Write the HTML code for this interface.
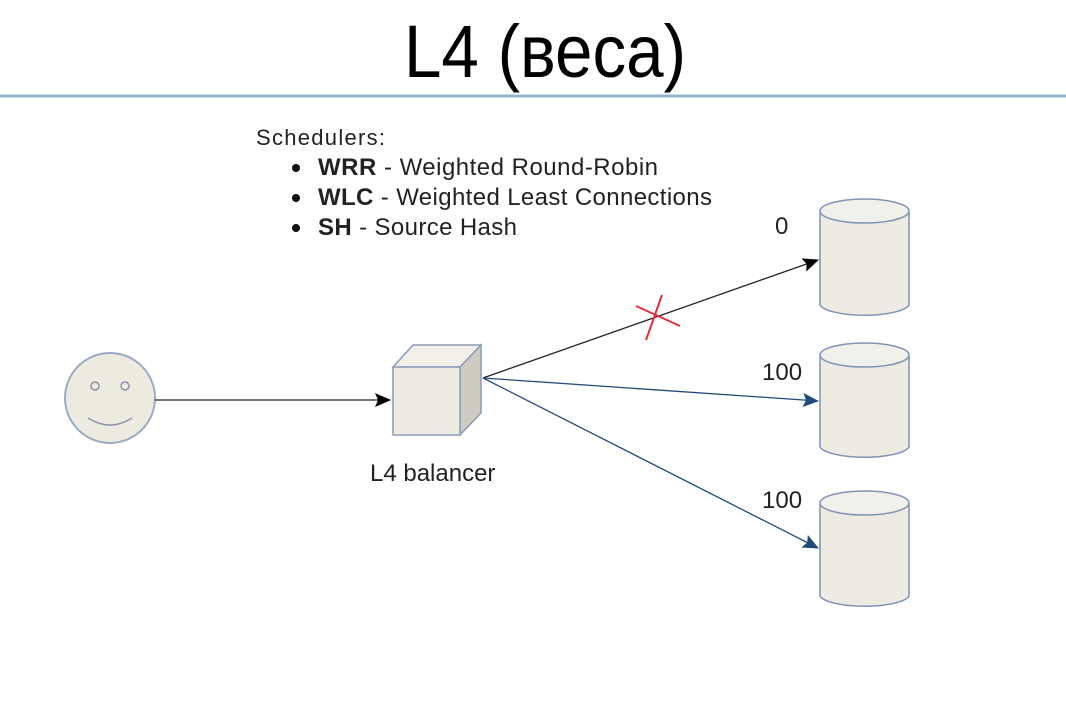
<!DOCTYPE html>
<html><head><style>
body{margin:0;width:1066px;height:704px;background:#fff;overflow:hidden;position:relative;font-family:"Liberation Sans",sans-serif}
.t{position:absolute;left:0;width:1090px;text-align:center;top:15px;font-size:74px;line-height:1;color:#000;transform:scaleX(0.91);transform-origin:545px 0}
</style></head><body>
<div class="t">L4 (веса)</div>
<svg width="1066" height="704" style="position:absolute;left:0;top:0">
<defs>
<marker id="ab" markerWidth="16" markerHeight="14" refX="15" refY="7" orient="auto" markerUnits="userSpaceOnUse"><path d="M0,0 L16,7 L0,14 L3,7z" fill="#000"/></marker>
<marker id="au" markerWidth="16" markerHeight="14" refX="15" refY="7" orient="auto" markerUnits="userSpaceOnUse"><path d="M0,0 L16,7 L0,14 L3,7z" fill="#1f4a7a"/></marker>
</defs>
<line x1="0" y1="96" x2="1066" y2="96" stroke="#8fb4d4" stroke-width="3"/>
<g font-size="24" fill="#222">
<text x="256" y="145" font-size="22" textLength="129">Schedulers:</text>
<circle cx="296" cy="168" r="4" fill="#111"/><text x="318" y="175" textLength="340"><tspan font-weight="bold">WRR</tspan> - Weighted Round-Robin</text>
<circle cx="296" cy="198" r="4" fill="#111"/><text x="318" y="205" textLength="394"><tspan font-weight="bold">WLC</tspan> - Weighted Least Connections</text>
<circle cx="296" cy="228" r="4" fill="#111"/><text x="318" y="235" textLength="199"><tspan font-weight="bold">SH</tspan> - Source Hash</text>
<text x="775" y="234">0</text>
<text x="762" y="380">100</text>
<text x="762" y="508">100</text>
<text x="370" y="481">L4 balancer</text>
</g>
<circle cx="110" cy="398" r="45" fill="#edeae0" stroke="#9aaac4" stroke-width="2"/>
<circle cx="95" cy="386" r="4" fill="none" stroke="#8a95a8" stroke-width="1.5"/>
<circle cx="125" cy="386" r="4" fill="none" stroke="#8a95a8" stroke-width="1.5"/>
<path d="M88,418 Q110,432 132,418" fill="none" stroke="#8a95a8" stroke-width="1.5"/>
<line x1="155" y1="400" x2="390" y2="400" stroke="#222" stroke-width="1.3" marker-end="url(#ab)"/>
<g stroke="#8a9cbc" stroke-width="1.5">
<polygon points="393,367 413,345 481,345 460,367" fill="#f2f0e8"/>
<polygon points="460,367 481,345 481,413 460,435" fill="#cfcbc0"/>
<rect x="393" y="367" width="67" height="68" fill="#edebe2"/>
</g>
<line x1="483" y1="378" x2="818" y2="260" stroke="#222" stroke-width="1.3" marker-end="url(#ab)"/>
<line x1="483" y1="378" x2="818" y2="401" stroke="#1f4a7a" stroke-width="1.3" marker-end="url(#au)"/>
<line x1="483" y1="378" x2="818" y2="548" stroke="#1f4a7a" stroke-width="1.3" marker-end="url(#au)"/>
<g stroke="#e0303a" stroke-width="2"><line x1="636" y1="306" x2="680" y2="326"/><line x1="662" y1="295" x2="646" y2="340"/></g>
<g stroke="#7f93b8" stroke-width="1.5">
<path d="M820,211 V305 A45,12 0 0 0 909,305 V211" fill="#edebe2"/><ellipse cx="864.5" cy="211" rx="44.5" ry="12" fill="#f2f0ea"/>
<path d="M820,355 V447 A45,12 0 0 0 909,447 V355" fill="#edebe2"/><ellipse cx="864.5" cy="355" rx="44.5" ry="12" fill="#f2f0ea"/>
<path d="M820,503 V596 A45,12 0 0 0 909,596 V503" fill="#edebe2"/><ellipse cx="864.5" cy="503" rx="44.5" ry="12" fill="#f2f0ea"/>
</g>
</svg>
</body></html>
